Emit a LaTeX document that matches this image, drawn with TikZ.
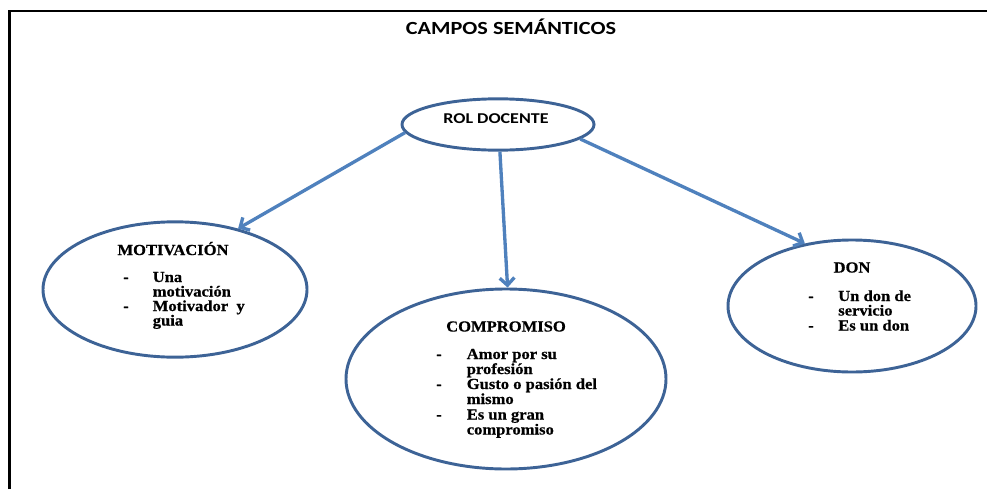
\documentclass[tikz,border=0pt]{standalone}
\usepackage{fontspec}
\setmainfont{Liberation Serif}
\newfontfamily\calib[FakeStretch=1.2]{Carlito}
\newfontfamily\tms[FakeStretch=1.08,FakeBold=0.6]{Liberation Serif}
\usetikzlibrary{shapes.geometric,arrows.meta}
\definecolor{ringc}{HTML}{3D6396}
\definecolor{arrowc}{HTML}{4F81BD}
\begin{document}
\begin{tikzpicture}[x=0.75pt,y=-0.75pt,
  ring/.style={ellipse,draw=ringc,line width=2.2pt,inner sep=0pt},
  txt/.style={anchor=base,inner sep=0pt,font=\tms\bfseries\fontsize{11.5}{11.5}\selectfont},
  item/.style={txt,anchor=base west},
  conn/.style={draw=arrowc,line width=2.5pt,-{Straight Barb[length=5.5pt,width=11pt]}},
  framel/.style={line width=1.7pt}]
\useasboundingbox (0,0) rectangle (987,489);
\draw[framel] (9.5,489) -- (9.5,11) -- (987,11);

\node[anchor=base,inner sep=0pt,font=\calib\bfseries\fontsize{13.9}{13.9}\selectfont] (title) at (511,34) {CAMPOS SEMÁNTICOS};

% ellipses
\node[ring,minimum width=144pt,minimum height=38.5pt] (rol) at (498,124.5) {};
\node[anchor=base,inner sep=0pt,font=\calib\bfseries\fontsize{11.25}{11.25}\selectfont] (roltxt) at (496,123.5) {ROL DOCENTE};

\node[ring,minimum width=198pt,minimum height=101.5pt] (mot) at (175,289.5) {};
\node[ring,minimum width=240pt,minimum height=135pt] (comp) at (506,379) {};
\node[ring,minimum width=186pt,minimum height=99pt] (don) at (852,306) {};

% MOTIVACION
\node[txt] (mott) at (173,255) {MOTIVACIÓN};
\node[item] (md1) at (123,282) {-};
\node[item] (m1) at (152.5,282) {Una};
\node[item] (m2) at (152.5,296.5) {motivación};
\node[item] (md2) at (123,311) {-};
\node[item] (m3) at (152.5,311) {Motivador\ \ y};
\node[item] (m4) at (152.5,325.5) {guia};

% COMPROMISO
\node[txt] (compt) at (506,331.5) {COMPROMISO};
\node[item] (cd1) at (436,359) {-};
\node[item] (c1) at (466.5,359) {Amor por su};
\node[item] (c2) at (466.5,374) {profesión};
\node[item] (cd2) at (436,389) {-};
\node[item] (c3) at (466.5,389) {Gusto o pasión del};
\node[item] (c4) at (466.5,404) {mismo};
\node[item] (cd3) at (436,419.5) {-};
\node[item] (c5) at (466.5,419.5) {Es un gran};
\node[item] (c6) at (466.5,434.5) {compromiso};

% DON
\node[txt] (dont) at (852,272.5) {DON};
\node[item] (dd1) at (808,301) {-};
\node[item] (d1) at (838,301) {Un don de};
\node[item] (d2) at (838,315.5) {servicio};
\node[item] (dd2) at (808,330.5) {-};
\node[item] (d3) at (838,330.5) {Es un don};

% connectors
\draw[conn] (rol.185) -- (mot.44);
\draw[conn] (rol.274) -- (comp.89);
\draw[conn] (rol.350.5) -- (don.127);
\end{tikzpicture}
\end{document}
